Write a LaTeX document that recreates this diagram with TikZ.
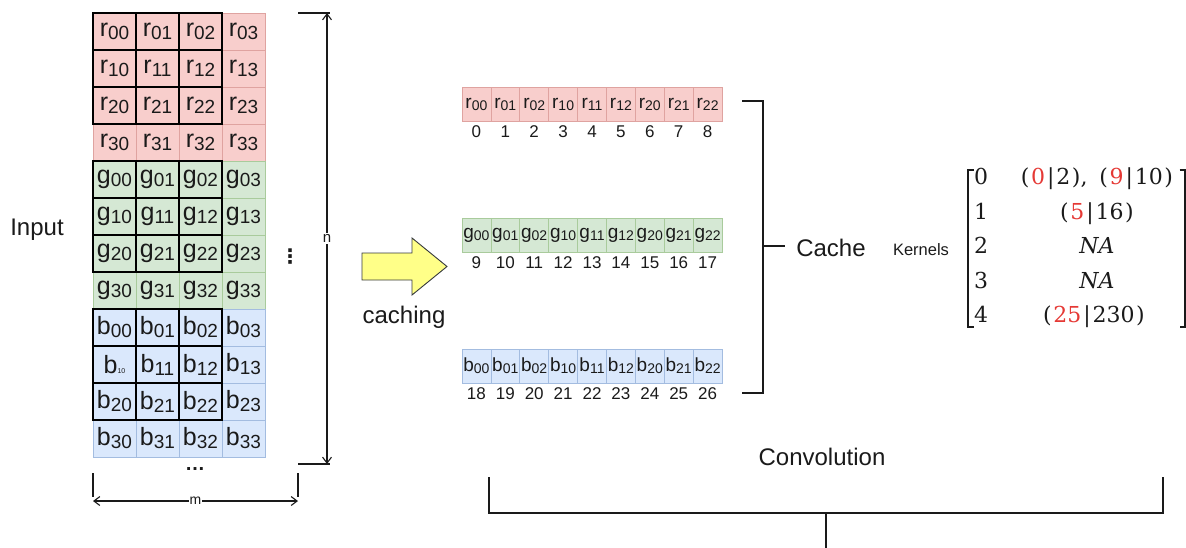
\RequirePackage{fix-cm}
\documentclass[tikz,border=0pt]{standalone}
\usepackage{fontspec}
\setmainfont{Liberation Sans}
\newfontfamily\dejavu{DejaVu Sans}
\newfontfamily\kfont{DejaVu Serif}
\usetikzlibrary{arrows.meta}
\definecolor{rfill}{HTML}{F8CECC}
\definecolor{rdraw}{HTML}{DFA3A0}
\definecolor{gfill}{HTML}{D5E8D4}
\definecolor{gdraw}{HTML}{A9CB9C}
\definecolor{bfill}{HTML}{DAE8FC}
\definecolor{bdraw}{HTML}{A3BCE0}
\definecolor{yfill}{HTML}{FFFF88}
\definecolor{ydraw}{HTML}{36393D}
\definecolor{kred}{HTML}{E53935}
\definecolor{ink}{HTML}{1A1A1A}
\newcommand{\gridtxt}[2]{{\fontsize{25}{25}\selectfont #1}\raisebox{-3pt}{\fontsize{19}{19}\selectfont #2}}
\newcommand{\cachetxt}[2]{{\fontsize{19}{19}\selectfont #1}\raisebox{-2pt}{\fontsize{14}{14}\selectfont #2}}
\newcommand{\kpair}[2]{(\kern1.5pt#1\kern2pt|\kern2pt#2\kern1.5pt)}
\newcommand{\kr}[1]{\textcolor{kred}{#1}}
\tikzset{
  gcell/.style={rectangle, minimum width=43pt, minimum height=37pt, inner sep=0pt, line width=0.7pt, text=ink},
  ccell/.style={rectangle, minimum width=28.9pt, minimum height=34pt, inner sep=0pt, line width=0.7pt, text=ink},
  numtxt/.style={inner sep=0pt, font=\fontsize{17}{17}\selectfont, text=ink},
  lbl/.style={inner sep=1pt, font=\fontsize{24}{24}\selectfont, text=ink},
  dimlbl/.style={fill=white, inner sep=1pt, font=\fontsize{15}{15}\selectfont, text=ink},
  thickbox/.style={draw=black, line width=1.8pt},
  dimline/.style={line width=1.1pt, draw=ink, {Straight Barb[length=6pt,width=9pt]}-{Straight Barb[length=6pt,width=9pt]}},
  tick/.style={line width=1.1pt, draw=ink},
  brk/.style={line width=1.3pt, draw=ink},
  mbrk/.style={line width=1.5pt, draw=ink},
  kstyle/.style={inner sep=0pt, font=\kfont\fontsize{22}{22}\selectfont, text=ink},
}
\begin{document}
\begin{tikzpicture}[x=1pt, y=-1pt]
\useasboundingbox (0,0) rectangle (1186,548);
% input grid
\def\btenname{b10}
\foreach \L/\fc/\dc [count=\b from 0] in {r/rfill/rdraw, g/gfill/gdraw, b/bfill/bdraw} {
  \foreach \i in {0,...,3} {
    \foreach \j in {0,...,3} {
      \pgfmathtruncatemacro\R{4*\b+\i}
      \edef\cur{\L\i\j}
      \ifx\cur\btenname
        \node[gcell, fill=\fc, draw=\dc] (\L\i\j) at ({114.5+43*\j},{31.5+37*\R}) {{\fontsize{25}{25}\selectfont b}{\fontsize{7}{7}\selectfont 10}};
      \else
        \node[gcell, fill=\fc, draw=\dc] (\L\i\j) at ({114.5+43*\j},{31.5+37*\R}) {\gridtxt{\L}{\i\j}};
      \fi
    }
  }
}
\foreach \L in {r,g,b} {
  \foreach \i in {0,1,2} {
    \foreach \j in {0,1,2} {
      \draw[thickbox] (\L\i\j.north west) rectangle (\L\i\j.south east);
    }
  }
}
\node[lbl] (input) at (37,230) {Input};
\node[inner sep=0pt, font=\fontsize{20}{20}\selectfont\bfseries, text=ink] (hdots) at (195,469) {…};
\node[inner sep=0pt, font=\dejavu\fontsize{20}{20}\selectfont\bfseries, text=ink] (vdots) at (290,257) {⋮};
% dimension n
\coordinate (nt) at (327,13);
\coordinate (nb) at (327,464);
\coordinate (ntl) at (298,13);
\coordinate (nbl) at (298,464);
\draw[tick] (ntl) -- ([xshift=3pt]nt);
\draw[tick] (nbl) -- ([xshift=3pt]nb);
\draw[dimline] (nt) -- node[dimlbl] (nlab) {n} (nb);
% dimension m
\coordinate (ml) at (93,501);
\coordinate (mr) at (298,501);
\coordinate (mlt) at (93,473);
\coordinate (mrt) at (298,473);
\draw[tick] (mlt) -- ([yshift=4pt]ml);
\draw[tick] (mrt) -- ([yshift=4pt]mr);
\draw[dimline] (ml) -- node[dimlbl, font=\fontsize{14}{14}\selectfont] (mlab) {m} (mr);
% caching arrow
\draw[fill=yfill, draw=ydraw, line width=0.9pt, line join=miter]
  (362,253) -- (412,253) -- (412,238) -- (447,266.5) -- (412,295) -- (412,280) -- (362,280) -- cycle;
\node[lbl] (caching) at (404,317) {caching};
% cache rows
\foreach \L/\fc/\dc/\yc/\base in {r/rfill/rdraw/104/0, g/gfill/gdraw/235/9, b/bfill/bdraw/366/18} {
  \foreach \k [count=\n from 0] in {00,01,02,10,11,12,20,21,22} {
    \node[ccell, fill=\fc, draw=\dc] (c\L\n) at ({476.4+28.9*\n},\yc) {\cachetxt{\L}{\k}};
    \pgfmathtruncatemacro\num{\base+\n}
    \node[numtxt] (n\L\n) at ({476.4+28.9*\n},{\yc+28}) {\num};
  }
}
% cache bracket
\coordinate (bt0) at (742,101);
\coordinate (bt1) at (763,101);
\coordinate (bb1) at (763,393);
\coordinate (bb0) at (742,393);
\coordinate (bm) at (763,246);
\coordinate (bme) at (785,246);
\draw[brk] (bt0) -- (bt1) -- (bb1) -- (bb0);
\draw[brk] (bm) -- (bme);
\node[lbl] (cache) at (831,248) {Cache};
% kernels
\node[inner sep=0pt, font=\fontsize{16.5}{16.5}\selectfont, text=ink] (kern) at (921,250) {Kernels};
\draw[mbrk] (973.5,170) -- (968,170) -- (968,327) -- (973.5,327);
\draw[mbrk] (1179.5,170) -- (1185,170) -- (1185,327) -- (1179.5,327);
\foreach \d/\yy in {0/185, 1/220, 2/254, 3/288, 4/322} {
  \node[kstyle, anchor=base west] (kl\d) at (974,\yy) {\d};
}
\node[kstyle, anchor=base] (kv0) at (1097,185) {\kpair{\kr{0}}{2},\hspace{12pt}\kpair{\kr{9}}{10}};
\node[kstyle, anchor=base] (kv1) at (1097,220) {\kpair{\kr{5}}{16}};
\node[kstyle, anchor=base] (kv2) at (1097,254) {\textit{NA}};
\node[kstyle, anchor=base] (kv3) at (1097,288) {\textit{NA}};
\node[kstyle, anchor=base] (kv4) at (1094,322) {\kpair{\kr{25}}{230}};
% convolution
\node[lbl] (conv) at (822,457) {Convolution};
\coordinate (cl0) at (489,477);
\coordinate (cl1) at (489,513);
\coordinate (cr1) at (1163,513);
\coordinate (cr0) at (1163,477);
\coordinate (cm0) at (826,513);
\coordinate (cm1) at (826,548);
\draw[brk] (cl0) -- (cl1) -- (cr1) -- (cr0);
\draw[brk] (cm0) -- (cm1);
\end{tikzpicture}
\end{document}
